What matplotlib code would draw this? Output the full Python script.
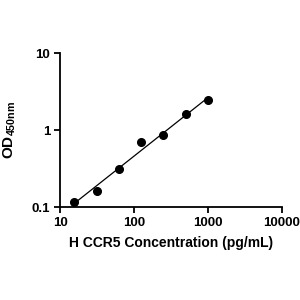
import numpy as np
import matplotlib
matplotlib.use("Agg")
import matplotlib.pyplot as plt
from matplotlib.ticker import NullLocator

conc = [15.6, 31.25, 62.5, 125, 250, 500, 1000]
od = [0.116, 0.163, 0.31, 0.69, 0.86, 1.63, 2.45]
xticks = [10, 100, 1000, 10000]
xticklabels = ["10", "100", "1000", "10000"]
yticks = [0.1, 1, 10]
yticklabels = ["0.1", "1", "10"]

plt.rcParams['font.family'] = ['Liberation Sans', 'DejaVu Sans']
plt.rcParams['font.weight'] = 'bold'
plt.rcParams['mathtext.fontset'] = 'custom'
plt.rcParams['mathtext.rm'] = 'Liberation Sans:bold'
plt.rcParams['mathtext.bf'] = 'Liberation Sans:bold'

fig = plt.figure(figsize=(3, 3), dpi=100)
ax = fig.add_axes([0.2, 0.31, 0.74, 0.513])

lx = np.log10(conc)
ly = np.log10(od)
p = np.polyfit(lx, ly, 1)
xs = np.linspace(lx[0], lx[-1], 50)
ax.plot(10**xs, 10**np.polyval(p, xs), color='black', lw=0.9)
ax.plot(conc, od, 'o', color='black', ms=5.5)

ax.set_xscale('log')
ax.set_yscale('log')
ax.set_xlim(10, 10000)
ax.set_ylim(0.1, 10)
ax.set_xticks(xticks)
ax.set_xticklabels(xticklabels)
ax.set_yticks(yticks)
ax.set_yticklabels(yticklabels)
ax.xaxis.set_minor_locator(NullLocator())
ax.yaxis.set_minor_locator(NullLocator())
for s in ['top', 'right']:
    ax.spines[s].set_visible(False)
for s in ['left', 'bottom']:
    ax.spines[s].set_linewidth(1.3)
ax.tick_params(axis='both', direction='out', length=4, width=1.3, labelsize=9.5, pad=3)
for lab in ax.get_xticklabels() + ax.get_yticklabels():
    lab.set_fontweight('bold')

ax.set_xlabel('H CCR5 Concentration (pg/mL)', fontsize=10, fontweight='bold', labelpad=5)
ax.set_ylabel(r'OD$_{\mathrm{450nm}}$', fontsize=11, fontweight='bold', va='center')
ax.yaxis.set_label_coords(-0.225, 0.5)

fig.savefig('out.png', dpi=100)
